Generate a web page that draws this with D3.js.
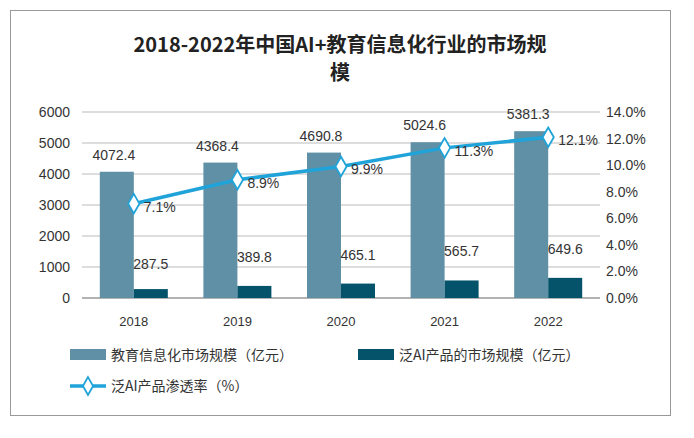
<!DOCTYPE html>
<html><head><meta charset="utf-8">
<script src="https://cdn.jsdelivr.net/npm/d3@7"></script>
<style>body{margin:0;background:#fff;font-family:"Liberation Sans",Arial,"Noto Sans CJK SC",sans-serif;}</style>
</head><body><div id="chart"></div>
<script>
const years = ['2018', '2019', '2020', '2021', '2022'];
const eduMarket = [4072.4, 4368.4, 4690.8, 5024.6, 5381.3];
const aiMarket = [287.5, 389.8, 465.1, 565.7, 649.6];
const aiRate = [7.1, 8.9, 9.9, 11.3, 12.1];
const leftTicks = [0, 1000, 2000, 3000, 4000, 5000, 6000];
const rightTicks = [0, 2, 4, 6, 8, 10, 12, 14];

const width = 694, height = 438;
const margin = {top: 112, right: 94, bottom: 140, left: 82};
const cjk = '"Noto Sans CJK SC",sans-serif';

const svg = d3.select('#chart').append('svg').attr('width', width).attr('height', height);
svg.append('rect').attr('x', 10.5).attr('y', 10.5).attr('width', 660).attr('height', 405)
    .attr('fill', '#fff').attr('stroke', '#999');

svg.append('text').attr('x', 340).attr('y', 52).attr('text-anchor', 'middle')
    .attr('font-family', cjk).attr('font-weight', 'bold').attr('font-size', 20).attr('fill', '#222')
    .text('2018-2022年中国AI+教育信息化行业的市场规');
svg.append('text').attr('x', 340).attr('y', 80).attr('text-anchor', 'middle')
    .attr('font-family', cjk).attr('font-weight', 'bold').attr('font-size', 20).attr('fill', '#222')
    .text('模');

const x = d3.scaleBand().domain(years).range([margin.left, width - margin.right]);
const y = d3.scaleLinear().domain([0, 6000]).range([height - margin.bottom, margin.top]);
const y2 = d3.scaleLinear().domain([0, 14]).range([height - margin.bottom, margin.top]);
const bw = 34;

svg.append('g').selectAll('line').data(leftTicks).join('line')
    .attr('x1', margin.left).attr('x2', width - margin.right)
    .attr('y1', d => y(d)).attr('y2', d => y(d))
    .attr('stroke', d => d === 0 ? '#666' : '#bbb');

svg.append('g').selectAll('text').data(leftTicks).join('text')
    .attr('x', 70).attr('y', d => y(d) + 5).attr('text-anchor', 'end')
    .attr('font-size', 14).attr('fill', '#333').text(d => d);
svg.append('g').selectAll('text').data(rightTicks).join('text')
    .attr('x', 606).attr('y', d => y2(d) + 5)
    .attr('font-size', 14).attr('fill', '#333').text(d => d.toFixed(1) + '%');
svg.append('g').selectAll('text').data(years).join('text')
    .attr('x', d => x(d) + x.bandwidth() / 2).attr('y', height - margin.bottom + 28)
    .attr('text-anchor', 'middle').attr('font-size', 13).attr('fill', '#333').text(d => d);

const cx = (d, i) => x(years[i]) + x.bandwidth() / 2;
svg.append('g').selectAll('rect').data(eduMarket).join('rect')
    .attr('x', (d, i) => cx(d, i) - bw).attr('y', d => y(d))
    .attr('width', bw).attr('height', d => y(0) - y(d)).attr('fill', '#5f90a5');
svg.append('g').selectAll('rect').data(aiMarket).join('rect')
    .attr('x', (d, i) => cx(d, i)).attr('y', d => y(d))
    .attr('width', bw).attr('height', d => y(0) - y(d)).attr('fill', '#04536b');

svg.append('g').selectAll('text').data(eduMarket).join('text')
    .attr('x', (d, i) => cx(d, i) - 20).attr('y', d => y(d) - 12).attr('text-anchor', 'middle')
    .attr('font-size', 14).attr('fill', '#333').text(d => d.toFixed(1));
svg.append('g').selectAll('text').data(aiMarket).join('text')
    .attr('x', (d, i) => cx(d, i) + 17).attr('y', (d, i) => y(aiMarket[i]) - 10 - (i === 0 ? 10 : 14)).attr('text-anchor', 'middle')
    .attr('font-size', 14).attr('fill', '#333').text(d => d.toFixed(1));

svg.append('path').datum(aiRate)
    .attr('d', d3.line().x((d, i) => cx(d, i)).y(d => y2(d)))
    .attr('fill', 'none').attr('stroke', '#1fa3d8').attr('stroke-width', 3.5);
svg.append('g').selectAll('path').data(aiRate).join('path')
    .attr('d', d3.symbol(d3.symbolDiamond, 110)())
    .attr('transform', (d, i) => `translate(${cx(d, i)},${y2(d)})`)
    .attr('fill', '#fff').attr('stroke', '#1fa3d8').attr('stroke-width', 1.8);
svg.append('g').selectAll('text').data(aiRate).join('text')
    .attr('x', (d, i) => cx(d, i) + 10).attr('y', d => y2(d) + 8)
    .attr('font-size', 14).attr('fill', '#333').text(d => d.toFixed(1) + '%');

// legend
const lg = svg.append('g').attr('font-family', cjk).attr('font-size', 14).attr('fill', '#333');
lg.append('rect').attr('x', 70).attr('y', 349).attr('width', 36).attr('height', 11).attr('fill', '#5f90a5');
lg.append('text').attr('x', 111).attr('y', 360).text('教育信息化市场规模（亿元）');
lg.append('rect').attr('x', 358).attr('y', 349).attr('width', 36).attr('height', 11).attr('fill', '#04536b');
lg.append('text').attr('x', 399).attr('y', 360).text('泛AI产品的市场规模（亿元）');
lg.append('line').attr('x1', 70).attr('x2', 106).attr('y1', 386).attr('y2', 386)
    .attr('stroke', '#1fa3d8').attr('stroke-width', 3.5);
lg.append('path').attr('d', d3.symbol(d3.symbolDiamond, 90)()).attr('transform', 'translate(88,386)')
    .attr('fill', '#fff').attr('stroke', '#1fa3d8').attr('stroke-width', 1.8);
lg.append('text').attr('x', 111).attr('y', 391).text('泛AI产品渗透率（%）');
</script></body></html>
